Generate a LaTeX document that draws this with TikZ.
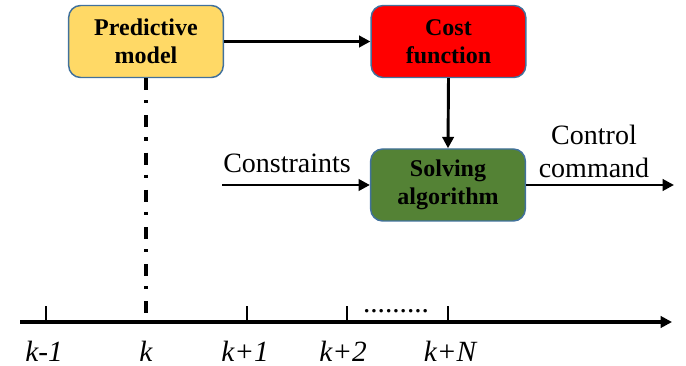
\documentclass[tikz,border=0pt]{standalone}
\usepackage{fontspec}
\setmainfont{Liberation Serif}
\usetikzlibrary{arrows.meta}
\definecolor{predfill}{HTML}{FFD966}
\definecolor{costfill}{HTML}{FF0000}
\definecolor{solvefill}{HTML}{548235}
\definecolor{boxedge}{HTML}{41719C}
\tikzset{
  blockbox/.style={draw=boxedge, line width=1.1pt, rounded corners=9pt, minimum width=116pt, minimum height=54pt, inner sep=0pt, align=center, font=\fontsize{18}{21}\selectfont\bfseries},
  flow/.style={line width=2.2pt, -{Triangle[length=8.5pt,width=8.5pt]}},
  plainline/.style={line width=1.7pt},
  lbl/.style={font=\fontsize{21}{24.5}\selectfont, inner sep=0pt},
  ticklbl/.style={font=\fontsize{22}{24}\selectfont\itshape, inner sep=0pt},
}
\begin{document}
\begin{tikzpicture}[x=0.75pt,y=-0.75pt]
\useasboundingbox (0,0) rectangle (686,366);
\node[blockbox, fill=predfill] (pred) at (146,41.5) {Predictive\\model};
\node[blockbox, fill=costfill] (cost) at (448.5,41.5) {Cost\\function};
\node[blockbox, fill=solvefill] (solve) at (448,185) {Solving\\algorithm};
\draw[flow] (pred.east) -- (cost.west);
\draw[flow] (cost.south) -- (solve.north);
\coordinate (cin) at (222,185);
\draw[flow] (cin) -- (solve.west);
\node[lbl, anchor=base west] (clbl) at (223,173) {Constraints};
\coordinate (cout) at (674,185);
\draw[flow] (solve.east) -- (cout);
\node[lbl, anchor=south, align=center] (olbl) at (594,178) {Control\\command};
% timeline
\coordinate (ax0) at (20,322);
\coordinate (ax1) at (672,322);
\draw[flow, line width=2.4pt] (ax0) -- (ax1);
\coordinate (t0) at (46,322);
\coordinate (t1) at (146,322);
\coordinate (t2) at (247,322);
\coordinate (t3) at (347,322);
\coordinate (t4) at (448,322);
\draw[line width=2.6pt, dash pattern=on 9pt off 7.5pt on 2.4pt off 9pt] (pred.south) -- (t1);
\foreach \t in {t0,t2,t3,t4} \draw[plainline] (\t) -- ++(0,-16);
\node[font=\fontsize{22}{24}\selectfont, inner sep=0pt, anchor=base] (dots) at (396,313) {.........};
\node[ticklbl] (l0) at (44,351) {k-1};
\node[ticklbl] (l1) at (146,351) {k};
\node[ticklbl] (l2) at (245,351) {k+1};
\node[ticklbl] (l3) at (343,351) {k+2};
\node[ticklbl] (l4) at (450,351) {k+N};
\end{tikzpicture}
\end{document}
